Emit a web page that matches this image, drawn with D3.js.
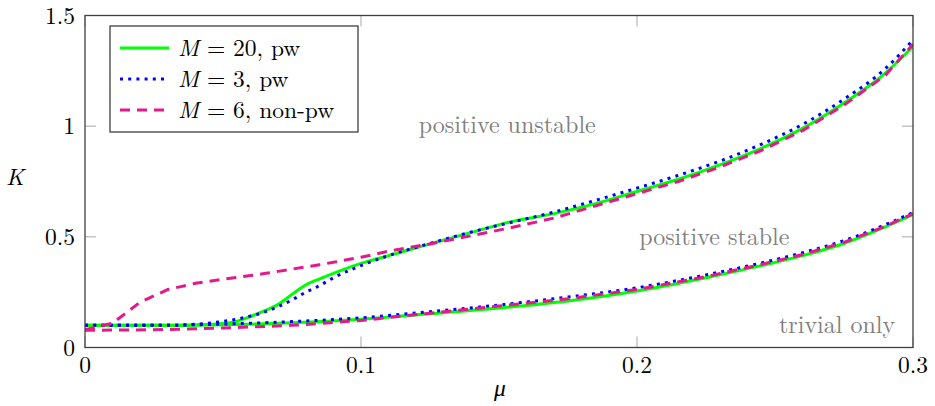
<!DOCTYPE html>
<html>
<head>
<meta charset="utf-8">
<script src="https://cdn.jsdelivr.net/npm/d3@7"></script>
<style>
  body { margin: 0; background: #fff; }
</style>
</head>
<body>
<svg id="chart" width="935" height="406"></svg>
<script>
/*
STABILITY REGIONS IN THE (mu, K) PLANE
*/

// tick values
const muTicks = [0, 0.1, 0.2, 0.3];
const kTicks = [0, 0.5, 1, 1.5];

// upper boundary (positive stable / positive unstable)
const muUpper = [0, 0.01, 0.02, 0.03, 0.04, 0.05, 0.055, 0.06, 0.065, 0.07, 0.075, 0.08, 0.085, 0.09,
  0.1, 0.11, 0.125, 0.14, 0.155, 0.17, 0.185, 0.2, 0.215, 0.23, 0.245, 0.26, 0.275, 0.29, 0.3];
const kUpperM20 = [0.1, 0.1, 0.1, 0.1, 0.102, 0.108, 0.118, 0.14, 0.165, 0.195, 0.24, 0.283, 0.31, 0.335,
  0.38, 0.415, 0.468, 0.52, 0.57, 0.605, 0.65, 0.705, 0.76, 0.825, 0.9, 0.99, 1.105, 1.24, 1.36];
const kUpperM3 = [0.1, 0.1, 0.1, 0.1, 0.105, 0.118, 0.128, 0.142, 0.16, 0.185, 0.215, 0.25, 0.28, 0.315,
  0.37, 0.415, 0.47, 0.522, 0.567, 0.612, 0.665, 0.72, 0.778, 0.842, 0.918, 1.008, 1.122, 1.26, 1.39];
const kUpperM6 = [0.08, 0.11, 0.205, 0.262, 0.29, 0.308, 0.317, 0.325, 0.334, 0.344, 0.354, 0.364, 0.374, 0.385,
  0.408, 0.435, 0.468, 0.505, 0.543, 0.585, 0.64, 0.695, 0.75, 0.815, 0.89, 0.98, 1.095, 1.23, 1.37];

// lower boundary (trivial only / positive stable)
const muLower = [0, 0.025, 0.05, 0.075, 0.1, 0.125, 0.15, 0.175, 0.2, 0.225, 0.245, 0.26, 0.275, 0.29, 0.3];
const kLowerM20 = [0.1, 0.1, 0.103, 0.112, 0.128, 0.152, 0.178, 0.21, 0.255, 0.315, 0.37, 0.415, 0.47, 0.545, 0.6];
const kLowerM3 = [0.1, 0.1, 0.106, 0.117, 0.134, 0.162, 0.192, 0.228, 0.27, 0.328, 0.382, 0.428, 0.483, 0.555, 0.61];
const kLowerM6 = [0.078, 0.08, 0.088, 0.1, 0.122, 0.155, 0.187, 0.22, 0.262, 0.32, 0.375, 0.42, 0.475, 0.548, 0.605];

// legend entries, in drawing order
const seriesM = ["20", "3", "6"];
const seriesKind = ["pw", "pw", "non-pw"];

// region labels
const regionNames = ["positive unstable", "positive stable", "trivial only"];
const regionMu = [0.153, 0.228, 0.2725];
const regionK = [1.0, 0.495, 0.097];

const width = 935;
const height = 406;
const margin = { top: 15.5, right: 22, bottom: 58.5, left: 85 };
const fontFamily = "'Latin Modern Roman', 'Liberation Serif', serif";
const fontSize = 23.5;

const styles = [
  { color: "#00ff00", dash: null, curve: d3.curveMonotoneX },
  { color: "#0000ff", dash: "3,5.2", curve: d3.curveMonotoneX },
  { color: "#e6198c", dash: "10,7", curve: d3.curveLinear },
];

function zipCurve(mu, k) {
  return mu.map((m, i) => ({ mu: m, k: k[i] }));
}

function addText(parent, size) {
  return parent.append("text").style("font-family", fontFamily).attr("font-size", size);
}

function drawFrame(svg, x, y) {
  const tickLen = 11;
  const ticks = svg.append("g").attr("stroke", "#a8a8a8").attr("stroke-width", 1);

  // ticks point inward on all four sides
  muTicks.forEach((t) => {
    ticks.append("line").attr("x1", x(t)).attr("x2", x(t)).attr("y1", y(0)).attr("y2", y(0) - tickLen);
    ticks.append("line").attr("x1", x(t)).attr("x2", x(t)).attr("y1", y(1.5)).attr("y2", y(1.5) + tickLen);
  });
  kTicks.forEach((t) => {
    ticks.append("line").attr("x1", x(0)).attr("x2", x(0) + tickLen).attr("y1", y(t)).attr("y2", y(t));
    ticks.append("line").attr("x1", x(0.3)).attr("x2", x(0.3) - tickLen).attr("y1", y(t)).attr("y2", y(t));
  });

  const xLabels = svg.append("g");
  muTicks.forEach((t) => {
    addText(xLabels, fontSize)
      .text(String(t))
      .attr("x", x(t))
      .attr("y", 373)
      .attr("text-anchor", "middle");
  });

  const yLabels = svg.append("g");
  kTicks.forEach((t) => {
    addText(yLabels, fontSize)
      .text(String(t))
      .attr("x", 75)
      .attr("y", y(t) + 8)
      .attr("text-anchor", "end");
  });

  // axis labels
  addText(svg, fontSize).text("μ").attr("x", 500).attr("y", 396)
    .attr("text-anchor", "middle").attr("font-style", "italic");
  addText(svg, fontSize).text("K").attr("x", 15).attr("y", 185)
    .attr("text-anchor", "middle").attr("font-style", "italic");
}

function drawCurves(svg, x, y) {
  const curves = [
    [zipCurve(muUpper, kUpperM20), zipCurve(muLower, kLowerM20)],
    [zipCurve(muUpper, kUpperM3), zipCurve(muLower, kLowerM3)],
    [zipCurve(muUpper, kUpperM6), zipCurve(muLower, kLowerM6)],
  ];

  const plot = svg.append("g").attr("clip-path", "url(#plot-clip)");
  curves.forEach((pair, i) => {
    const line = d3
      .line()
      .x((d) => x(d.mu))
      .y((d) => y(d.k))
      .curve(styles[i].curve);

    plot
      .selectAll()
      .data(pair)
      .enter()
      .append("path")
      .attr("d", line)
      .attr("fill", "none")
      .attr("stroke", styles[i].color)
      .attr("stroke-width", 3)
      .attr("stroke-dasharray", styles[i].dash);
  });
}

function drawRegions(svg, x, y) {
  const group = svg.append("g");
  regionNames.forEach((name, i) => {
    addText(group, 24)
      .text(name)
      .attr("x", x(regionMu[i]))
      .attr("y", y(regionK[i]) + 7)
      .attr("text-anchor", "middle")
      .attr("fill", "#808080");
  });
}

function drawLegend(svg) {
  const box = { x: 110, y: 26, w: 248, h: 106 };
  const legend = svg.append("g");
  legend
    .append("rect")
    .attr("x", box.x)
    .attr("y", box.y)
    .attr("width", box.w)
    .attr("height", box.h)
    .attr("fill", "#fff")
    .attr("stroke", "#404040")
    .attr("stroke-width", 1.3);

  seriesM.forEach((m, i) => {
    const row = legend.append("g").attr("transform", `translate(0,${48 + 31 * i})`);
    row
      .append("line")
      .attr("x1", 120)
      .attr("x2", 169)
      .attr("stroke", styles[i].color)
      .attr("stroke-width", 3)
      .attr("stroke-dasharray", styles[i].dash);

    const label = addText(row, fontSize).attr("x", 178).attr("y", 8);
    label.append("tspan").attr("font-style", "italic").text("M");
    label.append("tspan").text(` = ${m}, ${seriesKind[i]}`);
  });
}

const svg = d3.select("#chart");
const x = d3.scaleLinear().domain([0, 0.3]).range([margin.left, width - margin.right]);
const y = d3.scaleLinear().domain([0, 1.5]).range([height - margin.bottom, margin.top]);

svg
  .append("clipPath")
  .attr("id", "plot-clip")
  .append("rect")
  .attr("x", x(0))
  .attr("y", y(1.5))
  .attr("width", x(0.3) - x(0))
  .attr("height", y(0) - y(1.5));

drawFrame(svg, x, y);
drawCurves(svg, x, y);
drawRegions(svg, x, y);

// outer frame on top of curves
svg
  .append("rect")
  .attr("x", x(0))
  .attr("y", y(1.5))
  .attr("width", x(0.3) - x(0))
  .attr("height", y(0) - y(1.5))
  .attr("fill", "none")
  .attr("stroke", "#404040")
  .attr("stroke-width", 1.3);

drawLegend(svg);
</script>
</body>
</html>
